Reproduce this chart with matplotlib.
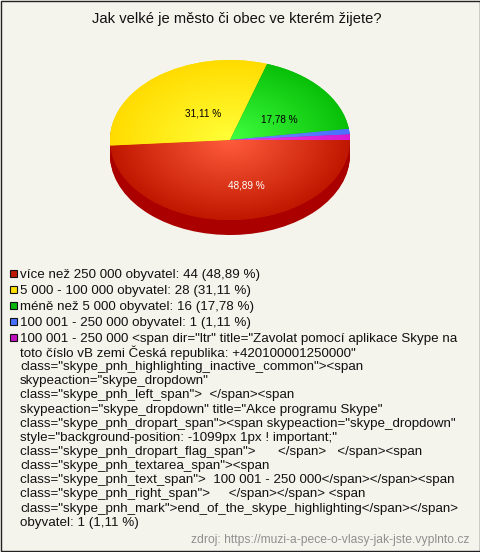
import numpy as np
import matplotlib
matplotlib.use("Agg")
import matplotlib.pyplot as plt
from matplotlib.colors import LinearSegmentedColormap
from matplotlib.patches import Rectangle

plt.rcParams['font.family'] = ['Liberation Sans', 'DejaVu Sans']

title = "Jak velké je město či obec ve kterém žijete?"
values = [44, 28, 16, 1, 1]
pct_labels = ["48,89 %", "31,11 %", "17,78 %", "", ""]
pct_colors = ["white", "black", "black", "black", "black"]
inner_colors = ["#ff5c3c", "#ffff38", "#40ff40", "#7088ff", "#e840e8"]
outer_colors = ["#c01800", "#ffdc00", "#08c008", "#4a70ff", "#d818d0"]
side_colors = ["#aa0000", "#aa0000", "#aa0000", "#aa0000", "#aa0000"]
swatch_colors = ["#c01800", "#ffe000", "#08b808", "#4a70ff", "#c010c0"]
legend_lines = [
    "více než 250 000 obyvatel: 44 (48,89 %)",
    "5 000 - 100 000 obyvatel: 28 (31,11 %)",
    "méně než 5 000 obyvatel: 16 (17,78 %)",
    "100 001 - 250 000 obyvatel: 1 (1,11 %)",
    "100 001 - 250 000 <span dir=\"ltr\" title=\"Zavolat pomocí aplikace Skype na",
]
wrapped_lines = [
    "toto číslo vB zemi Česká republika: +420100001250000\"",
    "class=\"skype_pnh_highlighting_inactive_common\"><span",
    "skypeaction=\"skype_dropdown\"",
    "class=\"skype_pnh_left_span\">  </span><span",
    "skypeaction=\"skype_dropdown\" title=\"Akce programu Skype\"",
    "class=\"skype_pnh_dropart_span\"><span skypeaction=\"skype_dropdown\"",
    "style=\"background-position: -1099px 1px ! important;\"",
    "class=\"skype_pnh_dropart_flag_span\">      </span>   </span><span",
    "class=\"skype_pnh_textarea_span\"><span",
    "class=\"skype_pnh_text_span\">  100 001 - 250 000</span></span><span",
    "class=\"skype_pnh_right_span\">     </span></span> <span",
    "class=\"skype_pnh_mark\">end_of_the_skype_highlighting</span></span>",
    "obyvatel: 1 (1,11 %)",
]
source = "zdroj: https://muzi-a-pece-o-vlasy-jak-jste.vyplnto.cz"

W, H = 480, 552
BG = "#f5f4ec"
fig = plt.figure(figsize=(W / 100, H / 100), dpi=100, facecolor=BG)

# overlay in pixel coordinates
ov = fig.add_axes([0, 0, 1, 1], zorder=3)
ov.set_xlim(0, W)
ov.set_ylim(H, 0)
ov.axis("off")
ov.patch.set_alpha(0)

# pie axes: ellipse centred (230,140), rx=120, ry=80
cx, cy, rx, ry, depth = 230, 140, 120, 80, 15
ax = fig.add_axes([(cx - rx) / W, 1 - (cy + ry + depth) / H, 2 * rx / W, (2 * ry + depth) / H], zorder=2)
ax.axis("off")

for d in range(depth, 0, -1):
    ax.pie(values, startangle=0, counterclock=False, colors=side_colors, radius=1,
           center=(0, -d / ry), frame=False)

wedges, _ = ax.pie(values, startangle=0, counterclock=False, colors=outer_colors,
                   radius=1, center=(0, 0), frame=False)
ax.set_aspect("auto")
ax.set_xlim(-1, 1)
ax.set_ylim(-1 - depth / ry, 1)

yy, xx = np.mgrid[-1:1:400j, -1:1:400j]
rr = np.clip(np.hypot(xx, yy), 0, 1)
for w, ci, co in zip(wedges, inner_colors, outer_colors):
    cmap = LinearSegmentedColormap.from_list("g", [ci, co])
    im = ax.imshow(rr, cmap=cmap, vmin=0, vmax=1, extent=(-1, 1, -1, 1),
                   origin="lower", aspect="auto", zorder=2)
    im.set_clip_path(w)
ax.set_xlim(-1, 1)
ax.set_ylim(-1 - depth / ry, 1)

# percent labels
label_pos = [(246, 186), (203, 114), (279, 119)]
for (x, y), t, c in zip(label_pos, pct_labels, pct_colors):
    ov.text(x, y, t, color=c, fontsize=7.2, ha="center", va="center")

ov.text(237, 19, title, fontsize=10.65, ha="center", va="center", color="#111111")

# legend
y0 = 275
for i, (t, c) in enumerate(zip(legend_lines, swatch_colors)):
    y = y0 + i * 16
    ov.add_patch(Rectangle((9.5, y - 5), 7, 7, facecolor=c, edgecolor="#111111", lw=0.8))
    ov.text(20, y, t, fontsize=9.6, va="center", ha="left", color="#111111")
for i, t in enumerate(wrapped_lines):
    ov.text(20, 353 + i * 14.15, t, fontsize=9.6, va="center", ha="left", color="#111111")

ov.text(469, 540, source, fontsize=8.75, va="center", ha="right", color="#909090")

# border
ov.add_patch(Rectangle((0.5, 0.5), W - 1, H - 1.5, fill=False, edgecolor="#222222", lw=1))

fig.savefig("out.png", dpi=100, facecolor=BG)
